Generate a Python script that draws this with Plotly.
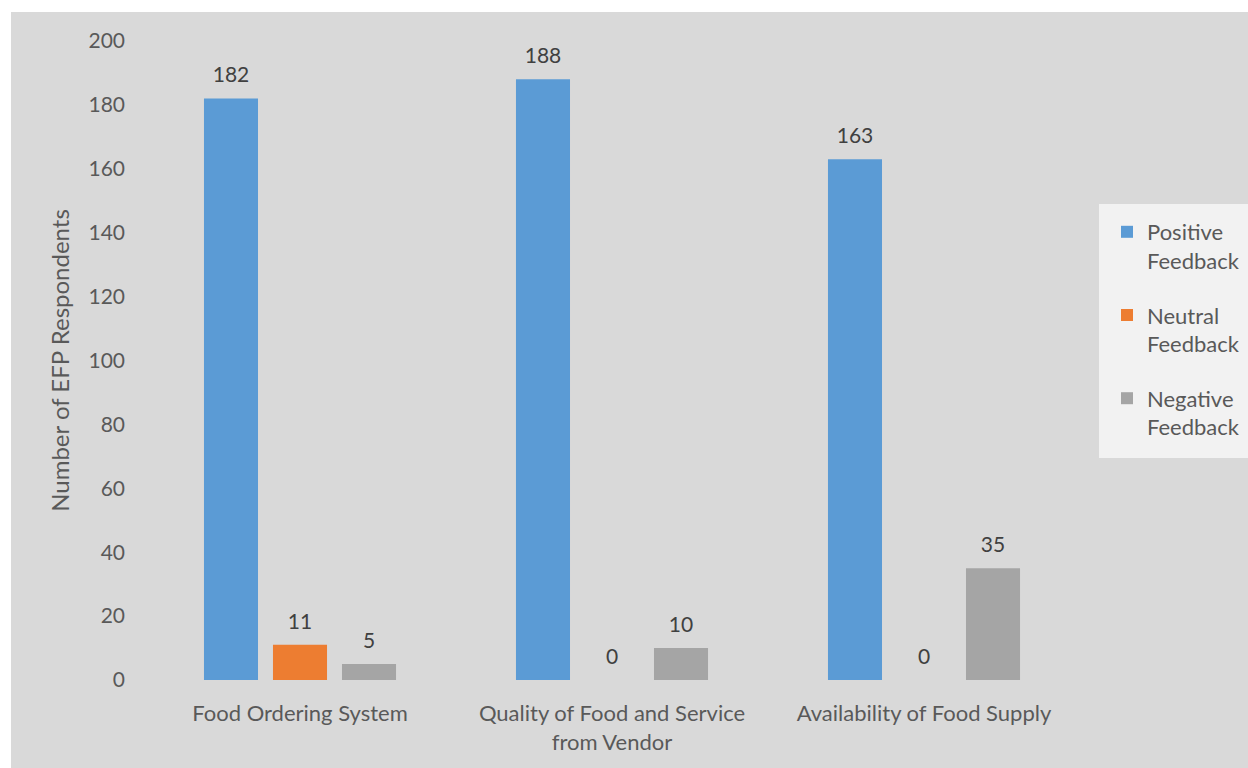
import plotly.graph_objects as go

categories = ["Food Ordering System", "Quality of Food and Service<br>from Vendor", "Availability of Food Supply"]
series_names = ["Positive<br>Feedback", "Neutral<br>Feedback", "Negative<br>Feedback"]
positive = [182, 188, 163]
neutral = [11, 0, 0]
negative = [5, 10, 35]
series_values = [positive, neutral, negative]
colors = ["#5b9bd5", "#ed7d31", "#a5a5a5"]
y_ticks = [0, 20, 40, 60, 80, 100, 120, 140, 160, 180, 200]

FONT = "Lato"
GRAY_TEXT = "#595959"
BG = "#d9d9d9"
BARGAP = 0.3365

# plot area in pixels: x 144..1080, y 41..680
PW, PH, L, T = 936, 639, 144, 41
def px_x(x):
    return (x - L) / PW
def px_y(y):
    return (T + PH - y) / PH

fig = go.Figure()
for i, (name, vals, col) in enumerate(zip(series_names, series_values, colors)):
    fig.add_trace(go.Bar(
        x=categories, y=vals, name=name, marker=dict(color=col, line=dict(width=0)),
        offsetgroup=str(i), legendgroup=str(i),
    ))
for i, vals in enumerate(series_values):
    fig.add_trace(go.Scatter(
        x=categories, y=vals, mode="markers+text", text=[str(v) for v in vals],
        textposition="top center", marker=dict(size=16, opacity=0),
        textfont=dict(family=FONT, size=21, color="#404040"),
        offsetgroup=str(i), showlegend=False, hoverinfo="skip", cliponaxis=False,
    ))

fig.update_layout(
    width=1248, height=768,
    margin=dict(l=L, r=1248 - L - PW, t=T, b=768 - T - PH, autoexpand=False),
    paper_bgcolor="white", plot_bgcolor=BG,
    barmode="group", bargap=BARGAP, bargroupgap=0.217,
    scattermode="group", scattergap=BARGAP,
    font=dict(family=FONT, size=21, color=GRAY_TEXT),
    showlegend=True,
    legend=dict(
        x=px_x(1107), y=px_y(211), xanchor="left", yanchor="top",
        bgcolor="rgba(0,0,0,0)", font=dict(family=FONT, size=22, color=GRAY_TEXT),
        traceorder="grouped", tracegroupgap=23, valign="top",
        itemwidth=30,
    ),
    shapes=[
        dict(type="rect", xref="paper", yref="paper",
             x0=px_x(11), x1=px_x(1248), y0=px_y(768), y1=px_y(12),
             fillcolor=BG, line=dict(width=0), layer="below"),
        dict(type="rect", xref="paper", yref="paper",
             x0=px_x(1099), x1=px_x(1248), y0=px_y(458), y1=px_y(204),
             fillcolor="#f2f2f2", line=dict(width=0), layer="below"),
    ],
)
fig.update_xaxes(showgrid=False, showline=False, zeroline=False, ticks="",
                 ticklabelstandoff=18,
                 tickfont=dict(family=FONT, size=22, color=GRAY_TEXT))
fig.update_yaxes(range=[0, 200], tickvals=y_ticks, showgrid=False, showline=False,
                 zeroline=False, ticks="", ticklabelstandoff=18,
                 tickfont=dict(family=FONT, size=21, color=GRAY_TEXT),
                 title=dict(text="Number of EFP Respondents", standoff=12,
                            font=dict(family=FONT, size=24, color=GRAY_TEXT)))

fig.write_html("out.html")
